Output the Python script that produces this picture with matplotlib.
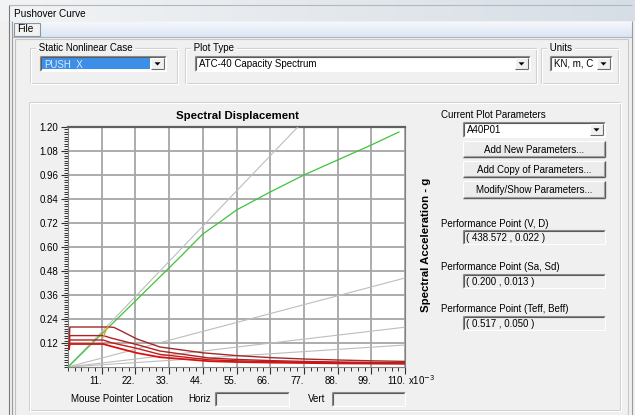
import matplotlib
matplotlib.use('Agg')
import matplotlib.pyplot as plt
from matplotlib.patches import Rectangle, Polygon
from matplotlib.ticker import FixedLocator, MultipleLocator
import numpy as np

plt.rcParams['font.family'] = ['Liberation Sans', 'DejaVu Sans']

# ---------------- data ----------------
y_ticks = [0.12, 0.24, 0.36, 0.48, 0.60, 0.72, 0.84, 0.96, 1.08, 1.20]
y_tick_labels = ['0.12', '0.24', '0.36', '0.48', '0.60', '0.72', '0.84', '0.96', '1.08', '1.20']
x_ticks = [0.011, 0.022, 0.033, 0.044, 0.055, 0.066, 0.077, 0.088, 0.099, 0.110]
x_tick_labels = ['11.', '22.', '33.', '44.', '55.', '66.', '77.', '88.', '99.', '110.']

# capacity spectrum (Sd in m, Sa in g)
capacity_sd = [0.0, 0.022, 0.0366, 0.044, 0.0496, 0.055, 0.066, 0.077, 0.088, 0.099, 0.108]
capacity_sa = [0.0, 0.33, 0.55, 0.665, 0.725, 0.785, 0.875, 0.96, 1.035, 1.11, 1.175]

# constant period lines (end points, start at origin)
period_end_sd = [0.075, 0.110, 0.110, 0.110]
period_end_sa = [1.20, 0.445, 0.199, 0.110]

# demand spectra
demand_sd_1 = [0.0003, 0.0006, 0.0135, 0.015, 0.017, 0.0225, 0.030, 0.044, 0.055, 0.066, 0.077, 0.088, 0.099, 0.110]
demand_sa_1 = [0.09, 0.200, 0.200, 0.198, 0.183, 0.140, 0.100, 0.071, 0.057, 0.047, 0.040, 0.035, 0.031, 0.028]
demand_sd_2 = [0.0003, 0.0006, 0.0115, 0.014, 0.0225, 0.030, 0.046, 0.055, 0.066, 0.077, 0.088, 0.099, 0.110]
demand_sa_2 = [0.09, 0.157, 0.157, 0.145, 0.112, 0.080, 0.045, 0.038, 0.032, 0.028, 0.025, 0.023, 0.021]
demand_sd_3 = [0.0003, 0.0006, 0.0115, 0.014, 0.0225, 0.030, 0.046, 0.055, 0.066, 0.077, 0.088, 0.099, 0.110]
demand_sa_3 = [0.09, 0.135, 0.135, 0.122, 0.093, 0.063, 0.036, 0.031, 0.027, 0.024, 0.022, 0.020, 0.019]
demand_sd_4 = [0.0003, 0.0006, 0.0115, 0.014, 0.0225, 0.030, 0.046, 0.055, 0.066, 0.077, 0.088, 0.099, 0.110]
demand_sa_4 = [0.09, 0.115, 0.115, 0.104, 0.070, 0.049, 0.029, 0.025, 0.022, 0.020, 0.018, 0.017, 0.016]

# family of demand points (ends at performance point)
locus_sd = [0.0116, 0.0119, 0.0124, 0.013]
locus_sa = [0.150, 0.165, 0.185, 0.200]

perf_vd = '( 438.572 , 0.022 )'
perf_sasd = '( 0.200 , 0.013 )'
perf_teff = '( 0.517 , 0.050 )'

# ---------------- figure ----------------
W, H = 635, 415
fig = plt.figure(figsize=(W / 100, H / 100), dpi=100)
fig.patch.set_facecolor('#f0f0f0')
ui = fig.add_axes([0, 0, 1, 1])
ui.set_xlim(0, W)
ui.set_ylim(H, 0)
ui.axis('off')

FS = 7.0


def rect(x0, y0, x1, y1, fc, ec='none', lw=0.8, z=1):
    ui.add_patch(Rectangle((x0, y0), x1 - x0, y1 - y0, facecolor=fc,
                           edgecolor=ec, lw=lw, zorder=z))


def line(x0, y0, x1, y1, c, lw=0.8, z=2):
    ui.plot([x0, x1], [y0, y1], color=c, lw=lw, zorder=z, solid_capstyle='butt')


def sunken(x0, y0, x1, y1, fc='white'):
    rect(x0, y0, x1, y1, fc)
    line(x0, y0, x1, y0, '#8c8c8c')
    line(x0, y0, x0, y1, '#8c8c8c')
    line(x0 + 1, y0 + 1, x1 - 1, y0 + 1, '#5a5a5a')
    line(x0 + 1, y0 + 1, x0 + 1, y1 - 1, '#5a5a5a')
    line(x0, y1, x1, y1, '#ffffff')
    line(x1, y0, x1, y1, '#ffffff')


def arrow_btn(x0, y0, x1, y1):
    rect(x0, y0, x1, y1, '#f0f0f0')
    line(x0, y0, x1, y0, '#ffffff')
    line(x0, y0, x0, y1, '#ffffff')
    line(x0, y1, x1, y1, '#6a6a6a')
    line(x1, y0, x1, y1, '#6a6a6a')
    cx, cy = (x0 + x1) / 2, (y0 + y1) / 2
    ui.add_patch(Polygon([(cx - 3, cy - 1.2), (cx + 3, cy - 1.2), (cx, cy + 2)],
                         closed=True, fc='black', ec='none', zorder=3))


def combo(x0, y0, x1, y1, text, highlight=False):
    sunken(x0, y0, x1, y1)
    arrow_btn(x1 - 15, y0 + 2, x1 - 2, y1 - 2)
    if highlight:
        rect(x0 + 2, y0 + 2, x1 - 16, y1 - 2, '#3d8ee6', z=2)
        ui.text(x0 + 4, (y0 + y1) / 2 + 0.5, text, fontsize=FS, color='#d9ecff',
                va='center', ha='left', zorder=4)
    else:
        ui.text(x0 + 4, (y0 + y1) / 2 + 0.5, text, fontsize=FS, color='black',
                va='center', ha='left', zorder=4)


def button(x0, y0, x1, y1, text):
    rect(x0, y0, x1, y1, '#ececec')
    line(x0, y0, x1, y0, '#ffffff')
    line(x0, y0, x0, y1, '#ffffff')
    line(x0, y1, x1, y1, '#5a5a5a', lw=1.0)
    line(x1, y0, x1, y1, '#5a5a5a', lw=1.0)
    line(x0 + 1, y1 - 1, x1 - 1, y1 - 1, '#a0a0a0')
    line(x1 - 1, y0 + 1, x1 - 1, y1 - 1, '#a0a0a0')
    ui.text((x0 + x1) / 2, (y0 + y1) / 2 + 0.5, text, fontsize=FS, ha='center',
            va='center', color='black', zorder=4)


def groupbox(x0, y0, x1, y1, label=None):
    for d, c in ((0, '#d0d0d0'), (1, '#ffffff')):
        line(x0 + d, y0 + d, x1 + d, y0 + d, c)
        line(x0 + d, y0 + d, x0 + d, y1 + d, c)
        line(x0 + d, y1 + d, x1 + d, y1 + d, c)
        line(x1 + d, y0 + d, x1 + d, y1 + d, c)
    if label:
        ui.text(x0 + 6, y0, ' ' + label + ' ', fontsize=FS, va='center', ha='left',
                color='black', zorder=4,
                bbox=dict(boxstyle='square,pad=0', fc='#f0f0f0', ec='none'))


# title bar gradient
grad = np.linspace(0, 1, 256)
c0 = np.array([0.95, 0.955, 0.96])
c1 = np.array([0.84, 0.87, 0.90])
img = (c0[None, :] * (1 - grad[:, None]) + c1[None, :] * grad[:, None])[None, :, :]
ui.imshow(img, extent=(0, W, 21, 0), aspect='auto', zorder=0)
ui.set_xlim(0, W)
ui.set_ylim(H, 0)
line(9, 5, 9, H, '#7a7a7a')
line(9, 5, 632, 5, '#b0b8c4')
ui.text(14, 14, 'Pushover Curve', fontsize=7.2, va='center', ha='left', color='black')

# menu bar
gradm = np.linspace(0, 1, 32)
m0 = np.array([0.96, 0.97, 0.99])
m1 = np.array([0.86, 0.90, 0.95])
imgm = (m0[None, :] * (1 - gradm[:, None]) + m1[None, :] * gradm[:, None])[:, None, :]
ui.imshow(imgm, extent=(12, 632, 37, 22), aspect='auto', zorder=0.5)
ui.set_xlim(0, W)
ui.set_ylim(H, 0)
line(12, 37, 632, 37, '#a9b6c8')
rect(14, 23, 40, 36, '#f2f2f2', ec='#8c96a3', lw=0.8, z=2)
ui.text(17, 29.5, 'File', fontsize=7.3, va='center', ha='left', color='black', zorder=3)

# body frame
line(12, 21, 12, H, '#9a9a9a')
line(15, 39, 15, H, '#c0c0c0')
line(632, 21, 632, H, '#9a9a9a')
line(628, 39, 628, H, '#c8c8c8')
line(15, 39, 628, 39, '#c8c8c8')

# top group boxes
groupbox(30, 48, 177, 83, 'Static Nonlinear Case')
combo(40, 56, 166, 71, 'PUSH_X', highlight=True)
groupbox(185, 48, 536, 83, 'Plot Type')
combo(195, 56, 530, 71, 'ATC-40 Capacity Spectrum')
groupbox(541, 48, 618, 83, 'Units')
combo(550, 56, 612, 71, 'KN, m, C')

# lower panel
groupbox(29, 102, 620, 410)

# right side controls
ui.text(441, 115, 'Current Plot Parameters', fontsize=FS, va='center', ha='left')
combo(463, 122, 605, 137, 'A40P01')
button(463, 141, 605, 157, 'Add New Parameters...')
button(463, 161, 605, 177, 'Add Copy of Parameters...')
button(463, 181, 605, 198, 'Modify/Show Parameters...')

ui.text(441, 224, 'Performance Point (V, D)', fontsize=FS, va='center', ha='left')
sunken(463, 230, 605, 244, fc='#f0f0f0')
ui.text(466, 237.5, perf_vd, fontsize=FS, va='center', ha='left', zorder=4)

ui.text(441, 267, 'Performance Point (Sa, Sd)', fontsize=FS, va='center', ha='left')
sunken(463, 274, 605, 288, fc='#f0f0f0')
ui.text(466, 281.5, perf_sasd, fontsize=FS, va='center', ha='left', zorder=4)

ui.text(441, 309, 'Performance Point (Teff, Beff)', fontsize=FS, va='center', ha='left')
sunken(463, 316, 605, 330, fc='#f0f0f0')
ui.text(466, 323.5, perf_teff, fontsize=FS, va='center', ha='left', zorder=4)

# mouse pointer row
ui.text(71, 399, 'Mouse Pointer Location', fontsize=FS, va='center', ha='left')
ui.text(188, 399, 'Horiz', fontsize=FS, va='center', ha='left')
sunken(215, 392, 289, 406, fc='#f0f0f0')
ui.text(308, 399, 'Vert', fontsize=FS, va='center', ha='left')
sunken(332, 392, 405, 406, fc='#f0f0f0')

# axis titles
ui.text(237.5, 116, 'Spectral Displacement', fontsize=8.2, fontweight='bold',
        ha='center', va='center')
ui.text(426, 245, 'Spectral Acceleration - g', fontsize=8.2, fontweight='bold',
        ha='center', va='center', rotation=90)
ui.text(408, 380, r'x10$^{-3}$', fontsize=FS, ha='left', va='center')

# ---------------- chart ----------------
ax = fig.add_axes([68 / W, 1 - 367 / H, (405 - 68) / W, (367 - 127) / H])
ax.set_facecolor('white')
ax.set_xlim(0, 0.110)
ax.set_ylim(0, 1.20)

ax.xaxis.set_major_locator(FixedLocator(x_ticks))
ax.set_xticklabels(x_tick_labels, ha='right')
ax.xaxis.set_minor_locator(MultipleLocator(0.0022))
ax.yaxis.set_major_locator(FixedLocator(y_ticks))
ax.set_yticklabels(y_tick_labels)
ax.yaxis.set_minor_locator(MultipleLocator(0.012))
ax.tick_params(axis='both', which='major', direction='out', length=5, width=0.8,
               color='#303030', labelsize=FS, pad=2)
ax.tick_params(axis='both', which='minor', direction='out', length=3, width=0.7,
               color='#303030')
ax.tick_params(axis='x', which='major', pad=1.5)
ax.grid(True, which='major', color='#a6a6a6', lw=1.3)
ax.set_axisbelow(True)
for s in ('left', 'bottom', 'right'):
    ax.spines[s].set_color('#808080')
    ax.spines[s].set_linewidth(0.8)
ax.spines['top'].set_color('#606060')
ax.spines['top'].set_linewidth(1.6)

for sd_e, sa_e in zip(period_end_sd, period_end_sa):
    ax.plot([0, sd_e], [0, sa_e], color='#bdbdbd', lw=0.8, zorder=3)

ax.plot(capacity_sd, capacity_sa, color='#3cc43c', lw=0.9, zorder=4)

ax.plot(demand_sd_4, demand_sa_4, color='#dd1010', lw=1.3, zorder=5)
ax.plot(demand_sd_3, demand_sa_3, color='#c01c1c', lw=1.0, zorder=5)
ax.plot(demand_sd_2, demand_sa_2, color='#b32020', lw=1.0, zorder=5)
ax.plot(demand_sd_1, demand_sa_1, color='#a52828', lw=1.0, zorder=5)
ax.plot(locus_sd, locus_sa, color='#e8a020', lw=1.0, zorder=6)

fig.savefig('out.png', dpi=100)
